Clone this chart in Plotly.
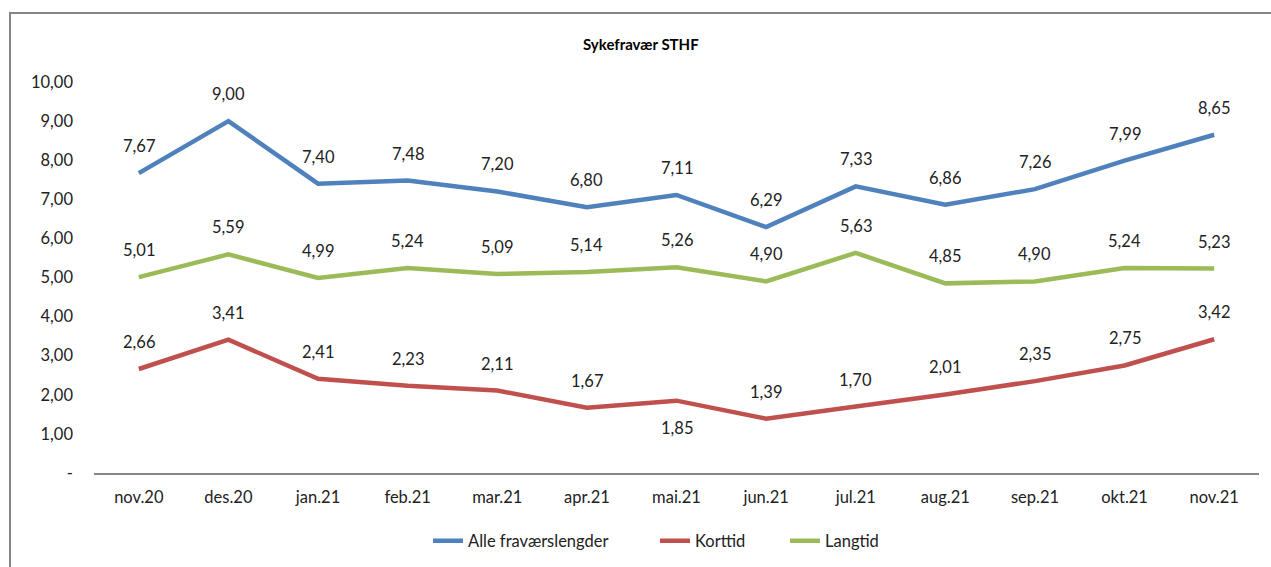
import plotly.graph_objects as go

months = ["nov.20", "des.20", "jan.21", "feb.21", "mar.21", "apr.21", "mai.21",
          "jun.21", "jul.21", "aug.21", "sep.21", "okt.21", "nov.21"]
alle = [7.67, 9.00, 7.40, 7.48, 7.20, 6.80, 7.11, 6.29, 7.33, 6.86, 7.26, 7.99, 8.65]
korttid = [2.66, 3.41, 2.41, 2.23, 2.11, 1.67, 1.85, 1.39, 1.70, 2.01, 2.35, 2.75, 3.42]
langtid = [5.01, 5.59, 4.99, 5.24, 5.09, 5.14, 5.26, 4.90, 5.63, 4.85, 4.90, 5.24, 5.23]
# label positions: 1 = above, -1 = below
korttid_pos = [1, 1, 1, 1, 1, 1, -1, 1, 1, 1, 1, 1, 1]

y_ticks = [0, 1, 2, 3, 4, 5, 6, 7, 8, 9, 10]
y_ticktext = ["-", "1,00", "2,00", "3,00", "4,00", "5,00", "6,00", "7,00", "8,00", "9,00", "10,00"]

FONT = "Lato, 'Open Sans', sans-serif"
FS = 16.5

def fmt(v):
    return f"{v:.2f}".replace(".", ",")

# body margin is removed via post_script, so figure pixels == page pixels
W, H = 1271, 567
PL, PR, PT, PB = 94, 1259, 82, 473  # plot area in page pixels
L, R, T, B = PL, W - PR, PT, H - PB
pw, ph = W - L - R, H - T - B

def px2paper_x(px):
    return (px - L) / pw

def px2paper_y(py):
    return (H - B - py) / ph

series = [
    ("Alle fraværslengder", alle, "#4F81BD", [1] * len(alle), "legend", 428),
    ("Korttid", korttid, "#C0504D", korttid_pos, "legend2", 655),
    ("Langtid", langtid, "#9BBB59", [1] * len(langtid), "legend3", 785),
]

fig = go.Figure()
annotations = []
legends = {}
for name, vals, color, pos, leg, lx in series:
    fig.add_trace(go.Scatter(x=months, y=vals, mode="lines", name=name, legend=leg,
                             line=dict(color=color, width=4.5)))
    legends[leg] = dict(orientation="h", x=px2paper_x(lx), xanchor="left",
                        y=px2paper_y(541), yanchor="middle",
                        font=dict(family=FONT, size=FS, color="#222222"),
                        bgcolor="rgba(0,0,0,0)")
    for m, v, p in zip(months, vals, pos):
        annotations.append(dict(x=m, y=v, xref="x", yref="y", text=fmt(v),
                                showarrow=False, yshift=27 * p,
                                font=dict(family=FONT, size=FS, color="#222222")))

annotations.append(dict(x=px2paper_x(641), y=px2paper_y(44), xref="paper", yref="paper",
                        text="<b>Sykefravær STHF</b>", xanchor="center", yanchor="middle",
                        showarrow=False, font=dict(family=FONT, size=15, color="#000000")))

fig.update_layout(
    width=W, height=H,
    margin=dict(l=L, r=R, t=T, b=B, autoexpand=False),
    paper_bgcolor="white", plot_bgcolor="white",
    font=dict(family=FONT, size=FS, color="#222222"),
    showlegend=True,
    annotations=annotations,
    shapes=[dict(type="rect", xref="paper", yref="paper",
                 x0=px2paper_x(10), x1=px2paper_x(1290),
                 y0=px2paper_y(600), y1=px2paper_y(13),
                 line=dict(color="#868686", width=2), fillcolor="rgba(0,0,0,0)", layer="below")],
    **legends,
)
fig.update_xaxes(showgrid=False, showline=True, linecolor="#868686", linewidth=2,
                 range=[-0.5, len(months) - 0.5], automargin=False,
                 ticks="", ticklabelstandoff=8, zeroline=False,
                 tickfont=dict(family=FONT, size=FS, color="#222222"))
fig.update_yaxes(range=[0, 10], tickvals=y_ticks, ticktext=y_ticktext, showgrid=False,
                 showline=False, zeroline=False, ticks="", ticklabelstandoff=20, automargin=False,
                 tickfont=dict(family=FONT, size=FS, color="#222222"))

fig.write_html("out.html", config={"displayModeBar": False},
               post_script="document.body.style.margin='0';document.body.style.overflow='hidden';")
